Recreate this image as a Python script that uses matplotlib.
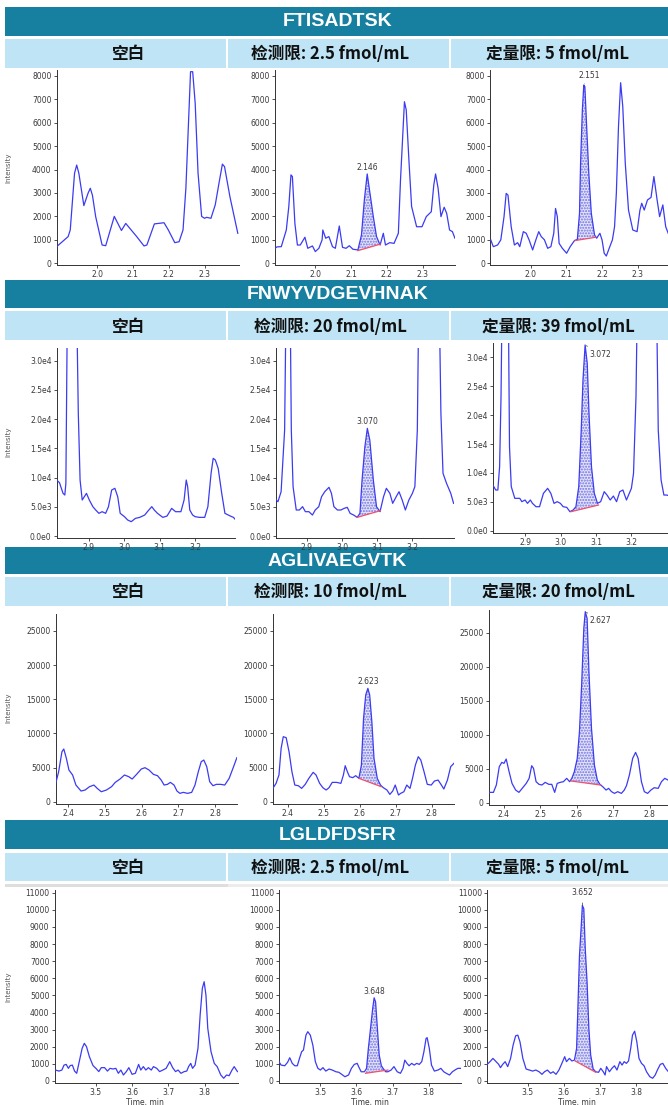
import numpy as np
import matplotlib.pyplot as plt
from matplotlib.patches import Rectangle

# ---- data ----
peptides = ["FTISADTSK", "FNWYVDGEVHNAK", "AGLIVAEGVTK", "LGLDFDSFR"]
blank_label = "空白"
lod_labels = ["检测限: 2.5 fmol/mL", "检测限: 20 fmol/mL", "检测限: 10 fmol/mL", "检测限: 2.5 fmol/mL"]
loq_labels = ["定量限: 5 fmol/mL", "定量限: 39 fmol/mL", "定量限: 20 fmol/mL", "定量限: 5 fmol/mL"]

# FTISADTSK
s1_blank_t = [1.887, 1.919, 1.925, 1.937, 1.943, 1.949, 1.963, 1.975, 1.981, 1.987, 1.996, 2.014, 2.024, 2.048,
              2.068, 2.08, 2.11, 2.131, 2.139, 2.16, 2.187, 2.199, 2.217, 2.229, 2.24, 2.248, 2.261, 2.267,
              2.274, 2.282, 2.292, 2.3, 2.306, 2.318, 2.33, 2.342, 2.35, 2.356, 2.371, 2.381, 2.393]
s1_blank_i = [710, 1137, 1420, 3840, 4190, 3840, 2460, 3000, 3200, 2900, 1990, 780, 750, 2000,
              1400, 1700, 1150, 740, 780, 1680, 1730, 1420, 880, 920, 1420, 3200, 8170, 8170,
              6820, 3840, 2000, 1920, 1960, 1920, 2490, 3550, 4230, 4120, 2840, 2130, 1280]
s1_lod_t = [1.887, 1.893, 1.905, 1.919, 1.926, 1.932, 1.936, 1.943, 1.95, 1.958, 1.971, 1.979, 1.992, 2.0,
            2.01, 2.019, 2.021, 2.029, 2.038, 2.048, 2.056, 2.067, 2.076, 2.086, 2.095, 2.105, 2.119, 2.129,
            2.137, 2.145, 2.152, 2.162, 2.171, 2.181, 2.19, 2.196, 2.208, 2.22, 2.232, 2.238, 2.249, 2.254,
            2.262, 2.269, 2.283, 2.298, 2.31, 2.324, 2.331, 2.336, 2.343, 2.351, 2.36, 2.367, 2.375, 2.383, 2.39]
s1_lod_i = [640, 700, 710, 1420, 2420, 3770, 3700, 1700, 780, 780, 1110, 640, 740, 500,
            640, 1000, 1420, 1070, 1140, 710, 640, 1590, 680, 640, 750, 600, 570, 1210,
            2700, 3810, 3060, 1990, 1140, 780, 1280, 780, 880, 850, 1280, 3550, 6890, 6540,
            4260, 2420, 1560, 1560, 1990, 2200, 3340, 3810, 3200, 1990, 2390, 2130, 1420, 1350, 1070]
s1_loq_t = [1.889, 1.896, 1.908, 1.917, 1.926, 1.932, 1.937, 1.946, 1.955, 1.964, 1.97, 1.98, 1.988, 1.996,
            2.006, 2.015, 2.023, 2.03, 2.039, 2.048, 2.057, 2.065, 2.07, 2.075, 2.08, 2.089, 2.101, 2.111,
            2.123, 2.131, 2.137, 2.14, 2.145, 2.149, 2.152, 2.157, 2.163, 2.17, 2.179, 2.185, 2.194, 2.2,
            2.206, 2.212, 2.22, 2.229, 2.235, 2.24, 2.246, 2.252, 2.258, 2.265, 2.274, 2.286, 2.298, 2.306,
            2.311, 2.318, 2.327, 2.337, 2.345, 2.354, 2.361, 2.37, 2.378, 2.385]
s1_loq_i = [995, 710, 780, 1000, 1990, 2980, 2910, 1560, 780, 880, 710, 1350, 1280, 1000,
            570, 1000, 1350, 1140, 1000, 640, 710, 1280, 2340, 1990, 850, 640, 430, 710,
            970, 1020, 2130, 4260, 6540, 7600, 7530, 5830, 3840, 2130, 1210, 1070, 1280, 1000,
            430, 310, 640, 1000, 1560, 2980, 5830, 7700, 6680, 4260, 2270, 1420, 1350, 2270,
            2560, 2270, 2700, 2810, 3700, 2700, 1990, 2490, 1560, 1280]

# FNWYVDGEVHNAK
s2_blank_t = [2.81, 2.818, 2.828, 2.833, 2.836, 2.841, 2.853, 2.865, 2.871, 2.876, 2.882, 2.894, 2.902, 2.912,
              2.92, 2.929, 2.938, 2.948, 2.956, 2.965, 2.974, 2.982, 2.989, 3.001, 3.01, 3.02, 3.032, 3.044,
              3.058, 3.068, 3.078, 3.085, 3.094, 3.109, 3.121, 3.134, 3.145, 3.16, 3.169, 3.175, 3.179, 3.185,
              3.193, 3.2, 3.212, 3.227, 3.236, 3.245, 3.251, 3.257, 3.265, 3.275, 3.284, 3.299, 3.308, 3.313]
s2_blank_i = [9580, 9120, 7300, 7010, 9010, 45000, 70000, 45000, 20990, 9580, 6160, 7300, 6160, 5020,
              4450, 3880, 4160, 3880, 5020, 7870, 8160, 6730, 3880, 3310, 2740, 2450, 3020, 3190,
              3590, 4330, 5020, 4450, 3880, 3190, 3420, 4730, 4160, 4160, 6160, 9580, 8440, 4450,
              3590, 3310, 3190, 3190, 5020, 10720, 13290, 13000, 11580, 7300, 3880, 3420, 3190, 2850]
s2_lod_t = [2.813, 2.818, 2.827, 2.837, 2.842, 2.847, 2.852, 2.856, 2.861, 2.87, 2.879, 2.888, 2.896, 2.906,
            2.916, 2.924, 2.934, 2.942, 2.951, 2.963, 2.97, 2.977, 2.987, 2.997, 3.006, 3.015, 3.023, 3.033,
            3.043, 3.051, 3.057, 3.065, 3.072, 3.079, 3.089, 3.098, 3.108, 3.118, 3.126, 3.136, 3.144, 3.154,
            3.162, 3.171, 3.18, 3.19, 3.2, 3.207, 3.214, 3.219, 3.247, 3.275, 3.281, 3.287, 3.297, 3.309, 3.317]
s2_lod_i = [6160, 5870, 7580, 18140, 45000, 70000, 45000, 18140, 8440, 4450, 4450, 5020, 4160, 4160,
            3590, 4450, 5020, 6730, 7580, 8330, 7300, 5020, 4450, 4450, 4730, 4900, 3880, 3590,
            3190, 3880, 9580, 15280, 18420, 16420, 9580, 5020, 4160, 6730, 8160, 7300, 5590, 6730,
            7580, 6160, 4450, 6160, 7300, 8440, 18140, 45000, 90000, 45000, 20990, 10720, 9010, 7300, 5590]
s2_loq_t = [2.808, 2.816, 2.822, 2.827, 2.831, 2.835, 2.843, 2.851, 2.855, 2.86, 2.87, 2.884, 2.89, 2.899,
            2.906, 2.914, 2.92, 2.93, 2.94, 2.951, 2.963, 2.972, 2.981, 2.99, 2.999, 3.007, 3.017, 3.026,
            3.035, 3.043, 3.051, 3.058, 3.063, 3.069, 3.075, 3.08, 3.087, 3.095, 3.104, 3.113, 3.123, 3.131,
            3.14, 3.149, 3.158, 3.167, 3.176, 3.186, 3.194, 3.2, 3.206, 3.213, 3.218, 3.244, 3.27, 3.276,
            3.284, 3.292, 3.3, 3.31]
s2_loq_i = [7900, 7040, 7040, 11080, 23190, 45000, 70000, 45000, 14540, 7620, 5600, 5600, 5020, 5310,
            4730, 5310, 4730, 4150, 4150, 6460, 7330, 6460, 4730, 5020, 4730, 4150, 4040, 3290,
            3580, 4150, 7620, 17420, 26080, 32130, 28960, 20310, 11080, 6460, 4730, 5020, 6750, 6170,
            5310, 6000, 5020, 6750, 7040, 5310, 6460, 7330, 9920, 23190, 45000, 90000, 45000, 17420,
            8770, 6170, 6170, 6000]

# AGLIVAEGVTK
s3_blank_t = [2.366, 2.374, 2.383, 2.388, 2.395, 2.402, 2.412, 2.421, 2.435, 2.446, 2.458, 2.47, 2.479, 2.49,
              2.504, 2.518, 2.528, 2.541, 2.553, 2.565, 2.574, 2.586, 2.599, 2.609, 2.62, 2.632, 2.643, 2.653,
              2.661, 2.67, 2.678, 2.688, 2.696, 2.704, 2.713, 2.725, 2.736, 2.745, 2.754, 2.762, 2.769, 2.777,
              2.785, 2.794, 2.803, 2.815, 2.826, 2.838, 2.85, 2.859]
s3_blank_i = [2690, 4390, 7320, 7720, 6350, 4640, 3910, 2440, 1560, 1710, 2200, 2440, 1950, 1460,
              1710, 2200, 2830, 3320, 3910, 3660, 3320, 4000, 4790, 4980, 4640, 4000, 3810, 3170,
              2440, 2540, 2830, 2440, 1560, 1220, 1370, 1220, 1370, 2440, 4390, 5860, 6100, 5130,
              2930, 2340, 2540, 2540, 2440, 3420, 5130, 6450]
s3_lod_t = [2.359, 2.368, 2.376, 2.382, 2.388, 2.396, 2.404, 2.412, 2.42, 2.43, 2.439, 2.449, 2.459, 2.471,
            2.479, 2.489, 2.498, 2.507, 2.515, 2.524, 2.536, 2.548, 2.555, 2.56, 2.566, 2.572, 2.581, 2.589,
            2.598, 2.605, 2.611, 2.617, 2.623, 2.628, 2.634, 2.64, 2.649, 2.658, 2.666, 2.676, 2.684, 2.692,
            2.699, 2.708, 2.714, 2.723, 2.731, 2.74, 2.747, 2.755, 2.763, 2.77, 2.779, 2.788, 2.799, 2.808,
            2.818, 2.826, 2.834, 2.844, 2.853, 2.862]
s3_lod_i = [1950, 2690, 3910, 7810, 9520, 9380, 7320, 4390, 2440, 2340, 1950, 2540, 3420, 4300,
            3910, 2690, 2050, 1710, 2050, 2830, 2830, 2690, 3910, 5270, 4390, 3660, 3520, 3810,
            3420, 5370, 12210, 15630, 16600, 15630, 11720, 6350, 3420, 2440, 2050, 1710, 1070, 1560,
            2440, 980, 1220, 1460, 2440, 1950, 3420, 5370, 6590, 6100, 4390, 2540, 2440, 3030,
            3170, 2540, 1860, 3170, 5130, 5620]
s3_loq_t = [2.359, 2.371, 2.379, 2.387, 2.394, 2.4, 2.406, 2.414, 2.422, 2.432, 2.441, 2.45, 2.461, 2.469,
            2.476, 2.481, 2.488, 2.496, 2.504, 2.513, 2.523, 2.531, 2.539, 2.546, 2.554, 2.563, 2.572, 2.58,
            2.586, 2.593, 2.601, 2.607, 2.613, 2.619, 2.623, 2.628, 2.633, 2.64, 2.648, 2.656, 2.663, 2.671,
            2.68, 2.687, 2.695, 2.703, 2.712, 2.722, 2.73, 2.736, 2.744, 2.753, 2.761, 2.768, 2.777, 2.785,
            2.794, 2.803, 2.812, 2.823, 2.832, 2.841, 2.85]
s3_loq_i = [1520, 1520, 2600, 5290, 5930, 5780, 6420, 4560, 2840, 1860, 1520, 2110, 2840, 3580,
            5440, 5050, 3090, 2700, 2600, 2990, 2700, 2700, 1520, 2840, 2990, 3090, 3580, 3090,
            3580, 4560, 6520, 10440, 17300, 25640, 28090, 27110, 19270, 10930, 5540, 3330, 2700, 2350,
            1860, 2110, 1620, 1370, 1620, 1370, 1860, 2500, 4070, 6520, 7400, 6520, 3090, 1620,
            1370, 1860, 2200, 2110, 3090, 3580, 3330]

# LGLDFDSFR
s4_blank_t = [3.388, 3.398, 3.406, 3.412, 3.418, 3.424, 3.429, 3.435, 3.441, 3.447, 3.454, 3.462, 3.468, 3.474,
              3.482, 3.492, 3.5, 3.508, 3.515, 3.524, 3.532, 3.539, 3.547, 3.555, 3.562, 3.569, 3.576, 3.584,
              3.591, 3.6, 3.609, 3.618, 3.624, 3.631, 3.638, 3.645, 3.653, 3.659, 3.668, 3.676, 3.685, 3.694,
              3.704, 3.712, 3.72, 3.727, 3.735, 3.744, 3.751, 3.756, 3.762, 3.767, 3.774, 3.782, 3.788, 3.794,
              3.799, 3.804, 3.809, 3.818, 3.827, 3.835, 3.845, 3.853, 3.861, 3.868, 3.876, 3.882, 3.891]
s4_blank_i = [640, 580, 640, 930, 970, 740, 900, 930, 580, 450, 1130, 1910, 2200, 2010,
              1420, 900, 740, 550, 780, 780, 580, 740, 700, 740, 450, 640, 350, 550,
              780, 390, 450, 970, 640, 840, 640, 780, 640, 840, 740, 550, 640, 740,
              1130, 780, 550, 640, 450, 550, 580, 840, 1030, 740, 930, 1910, 3860, 5410,
              5800, 5020, 3080, 1710, 1030, 840, 350, 160, 350, 310, 640, 840, 550]
s4_lod_t = [3.385, 3.391, 3.401, 3.409, 3.415, 3.422, 3.429, 3.436, 3.442, 3.448, 3.453, 3.46, 3.465, 3.472,
            3.479, 3.486, 3.493, 3.5, 3.507, 3.515, 3.524, 3.533, 3.543, 3.551, 3.559, 3.568, 3.578, 3.586,
            3.594, 3.602, 3.606, 3.613, 3.622, 3.628, 3.633, 3.639, 3.645, 3.649, 3.653, 3.658, 3.663, 3.669,
            3.675, 3.681, 3.687, 3.696, 3.704, 3.713, 3.722, 3.729, 3.734, 3.74, 3.746, 3.753, 3.76, 3.767,
            3.774, 3.781, 3.787, 3.793, 3.796, 3.802, 3.808, 3.816, 3.826, 3.834, 3.842, 3.849, 3.858, 3.866,
            3.873, 3.881, 3.891]
s4_lod_i = [1130, 930, 890, 1090, 1360, 1030, 890, 890, 1320, 1710, 1810, 2680, 2880, 2680,
            2100, 1130, 740, 640, 780, 580, 700, 640, 540, 510, 390, 250, 350, 740,
            970, 1030, 840, 540, 540, 740, 1900, 3070, 4240, 4860, 4620, 3070, 1520, 890,
            700, 540, 540, 640, 840, 540, 450, 740, 1220, 1030, 890, 1030, 930, 1030,
            970, 1130, 1710, 2490, 2530, 1900, 930, 580, 640, 740, 540, 450, 350, 540,
            640, 740, 740]
s4_loq_t = [3.387, 3.395, 3.403, 3.41, 3.419, 3.424, 3.43, 3.437, 3.444, 3.452, 3.459, 3.466, 3.472, 3.478,
            3.486, 3.495, 3.504, 3.513, 3.522, 3.531, 3.539, 3.546, 3.554, 3.563, 3.57, 3.578, 3.586, 3.593,
            3.602, 3.607, 3.615, 3.622, 3.629, 3.635, 3.638, 3.643, 3.648, 3.651, 3.655, 3.659, 3.664, 3.669,
            3.674, 3.681, 3.688, 3.696, 3.702, 3.709, 3.714, 3.718, 3.726, 3.733, 3.74, 3.747, 3.755, 3.761,
            3.767, 3.773, 3.779, 3.785, 3.79, 3.796, 3.802, 3.808, 3.815, 3.822, 3.829, 3.838, 3.846, 3.853,
            3.859, 3.867, 3.874, 3.882, 3.888]
s4_loq_i = [970, 1130, 1320, 1170, 970, 780, 970, 1130, 840, 1320, 2100, 2640, 2680, 2290,
            1320, 700, 640, 580, 640, 540, 390, 540, 640, 450, 540, 390, 640, 970,
            1420, 1130, 1320, 1170, 1220, 1900, 3850, 7340, 9090, 10260, 10060, 7730, 5790, 3070,
            1520, 700, 540, 510, 740, 540, 350, 840, 540, 740, 890, 640, 1130, 930,
            1130, 1030, 1170, 1900, 2680, 2910, 2290, 1320, 1030, 890, 540, 250, 160, 350,
            640, 970, 1030, 740, 580]

# integrated peaks: baseline start/end (time, intensity) and retention-time label
s1_lod_base = [(2.119, 540), (2.182, 820)]
s1_loq_base = [(2.125, 970), (2.182, 1110)]
s2_lod_base = [(3.043, 3190), (3.109, 4330)]
s2_loq_base = [(3.029, 3290), (3.107, 4440)]
s3_lod_base = [(2.598, 3420), (2.660, 2200)]
s3_loq_base = [(2.584, 3190), (2.665, 2600)]
s4_lod_base = [(3.625, 450), (3.687, 640)]
s4_loq_base = [(3.631, 1170), (3.688, 510)]
rt_labels = [("2.146", "2.151"), ("3.070", "3.072"), ("2.623", "2.627"), ("3.648", "3.652")]

s1_xticks = [2.0, 2.1, 2.2, 2.3]
s1_yticks = [0, 1000, 2000, 3000, 4000, 5000, 6000, 7000, 8000]
s2_xticks = [2.9, 3.0, 3.1, 3.2]
s2_yticks = [0, 5000, 10000, 15000, 20000, 25000, 30000]
s2_yticklabels = ["0.0e0", "5.0e3", "1.0e4", "1.5e4", "2.0e4", "2.5e4", "3.0e4"]
s3_xticks = [2.4, 2.5, 2.6, 2.7, 2.8]
s3_yticks = [0, 5000, 10000, 15000, 20000, 25000]
s4_xticks = [3.5, 3.6, 3.7, 3.8]
s4_yticks = [0, 1000, 2000, 3000, 4000, 5000, 6000, 7000, 8000, 9000, 10000, 11000]

# ---- styling ----
W, H = 668, 1105
TEAL = "#1780a1"
LIGHT = "#bfe4f5"
LINE = "#3b3bf2"
RED = "#f0506a"
TXT = "#3a3a3a"
CJK = ["Noto Sans CJK SC", "DejaVu Sans"]

fig = plt.figure(figsize=(W / 100, H / 100), dpi=100)


def fx(px):
    return px / W


def fy(py):
    return 1 - py / H


def box(x0, y0, x1, y1, color):
    fig.add_artist(Rectangle((fx(x0), fy(y1)), (x1 - x0) / W, (y1 - y0) / H,
                             transform=fig.transFigure, facecolor=color, edgecolor="none", zorder=0))


def cal(p, p1, v1, p2, v2):
    # map a pixel position to a data value from two tick calibrations
    return v1 + (p - p1) * (v2 - v1) / (p2 - p1)


def panel(xb, xc, yb, yc, t, inten, xticks, yticks, ylabels=None, base=None, rt=None, rt_style="above"):
    left, right = xb
    top, bottom = yb
    ax = fig.add_axes([fx(left), fy(bottom), (right - left) / W, (bottom - top) / H])
    ax.set_facecolor("none")
    ax.set_xlim(cal(left, *xc), cal(right, *xc))
    ax.set_ylim(cal(bottom, *yc), cal(top, *yc))
    ax.plot(t, inten, color=LINE, lw=0.9, zorder=3)
    if base is not None:
        (ts, bs), (te, be) = base
        tt = np.array(t, dtype=float)
        ii = np.array(inten, dtype=float)
        m = (tt > ts) & (tt < te)
        xs = np.concatenate([[ts], tt[m], [te]])
        ys = np.concatenate([[bs], ii[m], [be]])
        bl = bs + (xs - ts) * (be - bs) / (te - ts)
        ax.fill_between(xs, bl, ys, facecolor="#e4e4f6", edgecolor="#7070e8",
                        hatch="......", linewidth=0, zorder=2)
        ax.plot([ts, te], [bs, be], color=RED, lw=0.9, zorder=4)
        k = int(np.argmax(ys))
        px, py = xs[k], ys[k]
        if rt_style == "above":
            ax.annotate(rt, (px, py), xytext=(0, 1.5), textcoords="offset points",
                        ha="center", va="bottom", fontsize=5.5, color=TXT)
        elif rt_style == "upright":
            ax.annotate(rt, (px, py), xytext=(4, 7), textcoords="offset points",
                        ha="center", va="center", fontsize=5.5, color=TXT,
                        arrowprops=dict(arrowstyle="-", lw=0.5, color=TXT, shrinkA=1, shrinkB=1))
        elif rt_style == "right":
            ax.annotate(rt, (px, py), xytext=(3, -6.5), textcoords="offset points",
                        ha="left", va="center", fontsize=5.5, color=TXT,
                        arrowprops=dict(arrowstyle="-", lw=0.5, color=TXT, shrinkA=0.5, shrinkB=1))
        else:
            ax.annotate(rt, (px, py), xytext=(0, 9), textcoords="offset points",
                        ha="center", va="center", fontsize=5.5, color=TXT,
                        arrowprops=dict(arrowstyle="-", lw=0.5, color=TXT, shrinkA=2, shrinkB=2))
    for s in ("top", "right"):
        ax.spines[s].set_visible(False)
    for s in ("left", "bottom"):
        ax.spines[s].set_color("#333333")
        ax.spines[s].set_linewidth(0.7)
    ax.set_xticks(xticks)
    ax.set_xticklabels([f"{v:.1f}" for v in xticks])
    ax.set_yticks(yticks)
    ax.set_yticklabels(ylabels if ylabels is not None else [str(v) for v in yticks])
    ax.tick_params(axis="both", length=2.2, width=0.6, color="#333333", labelsize=5.5,
                   labelcolor=TXT, pad=1.5)
    return ax


# ---- header rows ----
head_rows = [(7, 36, 39, 68), (280, 308, 311, 340), (547, 574, 577, 606), (820, 849, 853, 881)]
cells = [(5, 226), (228, 449), (451, 668)]
cell_cx = [129, 330, 558]
for k, (h0, h1, s0, s1) in enumerate(head_rows):
    box(5, h0, 668, h1, TEAL)
    fig.text(fx(337.5), fy((h0 + h1) / 2 + 0.5), peptides[k], color="white", fontsize=14,
             fontweight="bold", family=["Liberation Sans", "DejaVu Sans"], ha="center", va="center")
    for (c0, c1) in cells:
        box(c0, s0, c1, s1, LIGHT)
    for cx, txt in zip(cell_cx, [blank_label, lod_labels[k], loq_labels[k]]):
        fig.text(fx(cx), fy((s0 + s1) / 2 + 1), txt, color="#111111", fontsize=12,
                 fontweight="bold", family=CJK, ha="center", va="center")
box(5, 884, 668, 887, "#ececec")
box(5, 884, 228, 887, "#dedede")

# ---- section 1: FTISADTSK ----
yc1 = (263.3, 0, 75.7, 8000)
panel((56.7, 238.6), (97.1, 2.0, 204.5, 2.3), (70, 265), yc1, s1_blank_t, s1_blank_i, s1_xticks, s1_yticks)
panel((275, 455), (315.3, 2.0, 422.7, 2.3), (70, 265), yc1, s1_lod_t, s1_lod_i, s1_xticks, s1_yticks,
      base=s1_lod_base, rt=rt_labels[0][0])
panel((490.5, 672), (530.5, 2.0, 637.8, 2.3), (70, 265), yc1, s1_loq_t, s1_loq_i, s1_xticks, s1_yticks,
      base=s1_loq_base, rt=rt_labels[0][1], rt_style="upright")

# ---- section 2: FNWYVDGEVHNAK ----
yc2 = (536, 0, 360.7, 30000)
panel((56.7, 235), (88.6, 2.9, 195.1, 3.2), (348, 538), yc2, s2_blank_t, s2_blank_i, s2_xticks, s2_yticks,
      s2_yticklabels)
panel((276, 453.8), (306.8, 2.9, 412.4, 3.2), (348, 538), yc2, s2_lod_t, s2_lod_i, s2_xticks, s2_yticks,
      s2_yticklabels, base=s2_lod_base, rt=rt_labels[1][0])
panel((493, 672), (525.4, 2.9, 631.4, 3.2), (343, 532.7), (530.7, 0, 357.3, 30000), s2_loq_t, s2_loq_i,
      s2_xticks, s2_yticks, s2_yticklabels, base=s2_loq_base, rt=rt_labels[1][1], rt_style="right")

# ---- section 3: AGLIVAEGVTK ----
yc3 = (801.7, 0, 631, 25000)
panel((55.8, 236.9), (68.2, 2.4, 215.2, 2.8), (614, 803.7), yc3, s3_blank_t, s3_blank_i, s3_xticks, s3_yticks)
panel((272.7, 453.8), (287.6, 2.4, 431.6, 2.8), (614, 803.7), yc3, s3_lod_t, s3_lod_i, s3_xticks, s3_yticks,
      base=s3_lod_base, rt=rt_labels[2][0])
panel((489, 672), (504, 2.4, 649.8, 2.8), (610, 804.7), (802.7, 0, 632.7, 25000), s3_loq_t, s3_loq_i,
      s3_xticks, s3_yticks, base=s3_loq_base, rt=rt_labels[2][1], rt_style="right")

# ---- section 4: LGLDFDSFR ----
yc4 = (1081, 0, 892.7, 11000)
panel((54.5, 237.7), (95.9, 3.5, 204.5, 3.8), (890, 1082.7), yc4, s4_blank_t, s4_blank_i, s4_xticks, s4_yticks)
panel((279, 461.4), (320.4, 3.5, 428.6, 3.8), (890, 1082.7), yc4, s4_lod_t, s4_lod_i, s4_xticks, s4_yticks,
      base=s4_lod_base, rt=rt_labels[3][0])
panel((487, 672), (527.9, 3.5, 636.1, 3.8), (890, 1082.7), yc4, s4_loq_t, s4_loq_i, s4_xticks, s4_yticks,
      base=s4_loq_base, rt=rt_labels[3][1], rt_style="top")

# axis titles
for yc in (168, 442, 708, 987):
    fig.text(fx(8.5), fy(yc), "Intensity", rotation=90, fontsize=5, color="#555555", ha="center", va="center")
for xc in (145, 370, 577):
    fig.text(fx(xc), fy(1102), "Time, min", fontsize=5.5, color=TXT, ha="center", va="center")

fig.savefig("out.png", dpi=100)
